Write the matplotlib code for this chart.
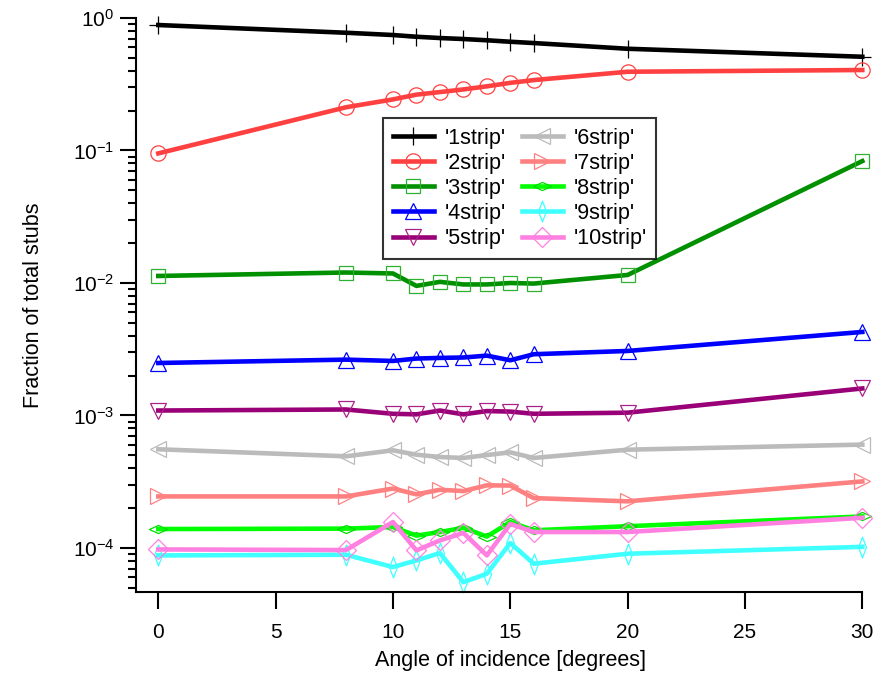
import matplotlib
matplotlib.use("Agg")
import matplotlib.pyplot as plt
from matplotlib.path import Path
import numpy as np

plt.rcParams['font.family'] = ['Liberation Sans', 'DejaVu Sans']
plt.rcParams['mathtext.fontset'] = 'custom'
plt.rcParams['mathtext.rm'] = 'Liberation Sans'
plt.rcParams['mathtext.it'] = 'Liberation Sans:italic'
plt.rcParams['mathtext.bf'] = 'Liberation Sans:bold'

# Angle of incidence (degrees)
angles = [0, 8, 10, 11, 12, 13, 14, 15, 16, 20, 30]

# Fraction of total stubs per cluster width
strip1 = [0.885, 0.774, 0.744, 0.722, 0.706, 0.694, 0.679, 0.662, 0.647, 0.586, 0.510]
strip2 = [0.0951, 0.212, 0.243, 0.264, 0.276, 0.289, 0.305, 0.324, 0.340, 0.393, 0.405]
strip3 = [0.0113, 0.0120, 0.0118, 0.00951, 0.0102, 0.00975, 0.00975, 0.0100, 0.0099, 0.0115, 0.0832]
strip4 = [0.00249, 0.00264, 0.00258, 0.00269, 0.00272, 0.00274, 0.00283, 0.00261, 0.00290, 0.00307, 0.00427]
strip5 = [0.00109, 0.00111, 0.00103, 0.00102, 0.00109, 0.00102, 0.00108, 0.00107, 0.00103, 0.00105, 0.00160]
strip6 = [5.56e-4, 4.92e-4, 5.46e-4, 5.06e-4, 4.86e-4, 4.78e-4, 5.03e-4, 5.27e-4, 4.78e-4, 5.52e-4, 6.03e-4]
strip7 = [2.45e-4, 2.45e-4, 2.81e-4, 2.54e-4, 2.75e-4, 2.69e-4, 2.97e-4, 2.96e-4, 2.38e-4, 2.25e-4, 3.18e-4]
strip8 = [1.39e-4, 1.40e-4, 1.44e-4, 1.24e-4, 1.32e-4, 1.42e-4, 1.22e-4, 1.57e-4, 1.36e-4, 1.46e-4, 1.73e-4]
strip9 = [8.79e-5, 8.89e-5, 7.18e-5, 8.06e-5, 9.16e-5, 5.52e-5, 6.39e-5, 1.09e-4, 7.61e-5, 9.05e-5, 1.02e-4]
strip10 = [9.75e-5, 9.65e-5, 1.57e-4, 9.59e-5, 1.14e-4, 1.30e-4, 8.79e-5, 1.52e-4, 1.32e-4, 1.32e-4, 1.69e-4]

labels = ["'1strip'", "'2strip'", "'3strip'", "'4strip'", "'5strip'",
          "'6strip'", "'7strip'", "'8strip'", "'9strip'", "'10strip'"]
series = [strip1, strip2, strip3, strip4, strip5,
          strip6, strip7, strip8, strip9, strip10]

line_colors = ['#000000', '#ff4040', '#009000', '#0000ff', '#990077',
               '#bbbbbb', '#ff8080', '#00ff00', '#40ffff', '#ff80e0']
edge_colors = ['#000000', '#ff4040', '#30b030', '#0000ff', '#aa2288',
               '#bbbbbb', '#ff8080', '#00dd00', '#40ffff', '#ff80e0']

# wide, flat diamond and tall, narrow diamond
wide_diamond = Path([(-1, 0), (0, 0.45), (1, 0), (0, -0.45), (-1, 0)],
                    [Path.MOVETO, Path.LINETO, Path.LINETO, Path.LINETO, Path.CLOSEPOLY])
tall_diamond = Path([(0, -1), (0.38, 0), (0, 1), (-0.38, 0), (0, -1)],
                    [Path.MOVETO, Path.LINETO, Path.LINETO, Path.LINETO, Path.CLOSEPOLY])
markers = ['+', 'o', 's', '^', 'v', '<', '>', wide_diamond, tall_diamond, 'D']
msizes = [13, 11, 10, 11, 11, 11, 11, 13, 15, 10]

fig = plt.figure(figsize=(8.9, 6.73), dpi=100)
W, H = 890, 673
ax = fig.add_axes([136 / W, 1 - 592.3 / H, (862.3 - 136) / W, (592.3 - 18) / H])

for vals, lab, lc, ec, mk, ms in zip(series, labels, line_colors, edge_colors, markers, msizes):
    ax.plot(angles, vals, color=lc, lw=3.3, marker=mk, ms=ms,
            mfc='none', mec=ec, mew=0.9, label=lab, solid_joinstyle='round',
            clip_on=False)

ax.set_yscale('log')
ax.set_xlim(-0.95, 30)
ax.set_ylim(4.63e-5, 1.0)
ax.set_xticks([0, 5, 10, 15, 20, 25, 30])
ax.set_xticklabels(['0', '5', '10', '15', '20', '25', '30'])

for side in ['top', 'right']:
    ax.spines[side].set_visible(False)
for side in ['left', 'bottom']:
    ax.spines[side].set_linewidth(1.5)

ax.tick_params(axis='y', which='major', direction='out', length=11.5, width=1.5,
               labelsize=15, pad=4)
ax.tick_params(axis='y', which='minor', direction='out', length=5.8, width=1.5)
ax.tick_params(axis='x', which='major', direction='out', length=12, width=1.5,
               labelsize=15, pad=10)
ax.tick_params(axis='x', which='minor', bottom=False)

ax.set_xlabel('Angle of incidence [degrees]', fontsize=15.5)
ax.xaxis.set_label_coords(0.515, -0.1)
ax.set_ylabel('Fraction of total stubs', fontsize=15.5)
ax.yaxis.set_label_coords(-0.127, 0.5)

leg = ax.legend(ncol=2, loc='upper left',
                bbox_to_anchor=(383 / W, 1 - 118 / H), bbox_transform=fig.transFigure,
                borderaxespad=0, fontsize=15.5, frameon=True, fancybox=False,
                handlelength=1.9, handletextpad=0.5, columnspacing=0.75,
                labelspacing=0.19, borderpad=0.45)
leg.get_frame().set_edgecolor('black')
leg.get_frame().set_linewidth(1.5)

fig.savefig('out.png', dpi=100)
